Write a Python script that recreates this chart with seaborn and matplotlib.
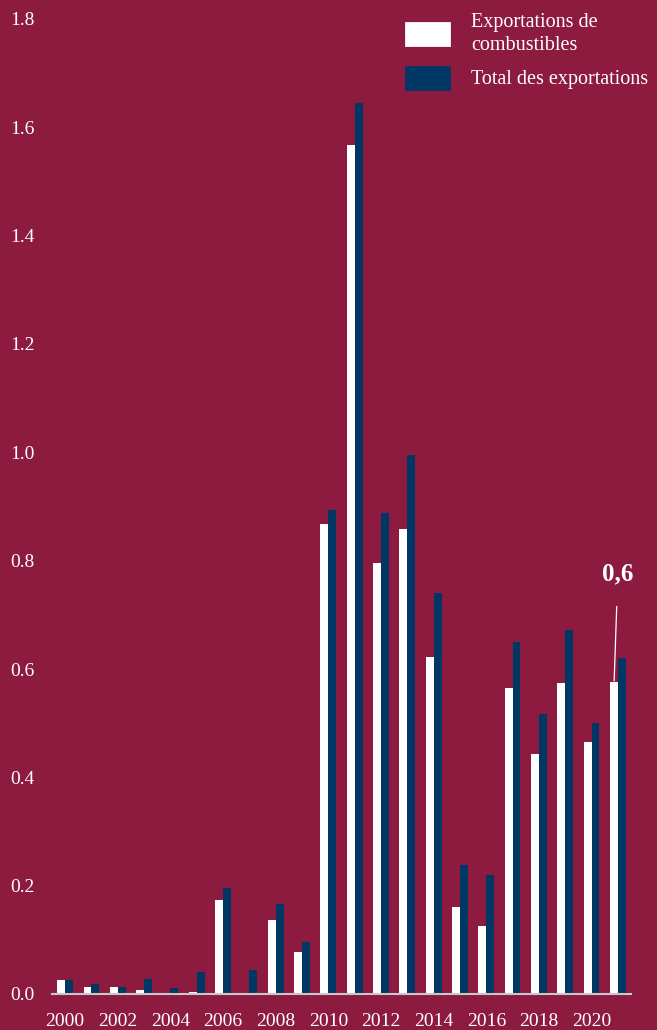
import matplotlib
matplotlib.use("Agg")
import matplotlib.pyplot as plt
import seaborn as sns
import pandas as pd
from matplotlib.patches import Patch

BG = "#8C1B3F"
WHITE = "#FFFFFF"
NAVY = "#003764"

years = list(range(2000, 2022))
fuel_exports = [0.026, 0.013, 0.013, 0.007, 0.0, 0.004, 0.173, 0.0, 0.137, 0.077,
                0.868, 1.568, 0.796, 0.859, 0.622, 0.160, 0.126, 0.565, 0.443, 0.574,
                0.465, 0.576]
total_exports = [0.026, 0.018, 0.013, 0.028, 0.011, 0.041, 0.196, 0.044, 0.166, 0.096,
                 0.894, 1.644, 0.888, 0.995, 0.740, 0.238, 0.220, 0.650, 0.517, 0.672,
                 0.500, 0.620]
series = ["Exportations de\ncombustibles", "Total des exportations"]

df = pd.DataFrame({
    "year": years * 2,
    "value": fuel_exports + total_exports,
    "serie": [series[0]] * len(years) + [series[1]] * len(years),
})

sns.set_theme(style="white")
plt.rcParams["font.family"] = ["Liberation Serif", "DejaVu Serif"]

fig = plt.figure(figsize=(6.57, 10.30), dpi=100, facecolor=BG)
ax = fig.add_axes([52 / 657, 36 / 1030, (631 - 52) / 657, (994 - 19) / 1030])
ax.set_facecolor(BG)

sns.barplot(data=df, x="year", y="value", hue="serie", hue_order=series,
            palette=[WHITE, NAVY], width=0.6, saturation=1, linewidth=0,
            ax=ax, legend=False)

ax.set_xlim(-0.5, 21.5)
ax.set_ylim(0, 1.8)
ax.set_yticks([0, 0.2, 0.4, 0.6, 0.8, 1.0, 1.2, 1.4, 1.6, 1.8])
ax.set_yticklabels([f"{v:.1f}" for v in ax.get_yticks()])
ax.set_xticks(range(0, 22, 2))
ax.set_xticklabels([str(y) for y in years[::2]])
ax.set_xlabel("")
ax.set_ylabel("")

for s in ["top", "right", "left"]:
    ax.spines[s].set_visible(False)
ax.spines["bottom"].set_color("#C8C8C8")
ax.spines["bottom"].set_linewidth(1.5)

ax.tick_params(axis="y", length=0, pad=30, labelsize=14, labelcolor=WHITE)
for lab in ax.get_yticklabels():
    lab.set_horizontalalignment("left")
ax.tick_params(axis="x", length=0, pad=14, labelsize=14, labelcolor=WHITE)

ax.annotate("0,6", xy=(20.86, 0.578), xytext=(21.0, 0.776),
            ha="center", va="center", color=WHITE, fontsize=18, fontweight="bold",
            arrowprops=dict(arrowstyle="-", color=WHITE, lw=0.9, shrinkA=13, shrinkB=0))

# légende : pavés aux coins arrondis
handles = [Patch(facecolor=WHITE, edgecolor=WHITE, linewidth=2, joinstyle="round"),
           Patch(facecolor=NAVY, edgecolor=NAVY, linewidth=2, joinstyle="round")]
leg = ax.legend(handles, series, loc="upper left", bbox_to_anchor=(406 / 657, 1 - 13 / 1030),
                bbox_transform=fig.transFigure, frameon=False, fontsize=14.5,
                handlelength=2.15, handleheight=1.3, handletextpad=1.1,
                labelspacing=0.6, borderpad=0, borderaxespad=0)
for t in leg.get_texts():
    t.set_color(WHITE)
    t.set_linespacing(1.25)

fig.savefig("out.png", dpi=100, facecolor=BG)
